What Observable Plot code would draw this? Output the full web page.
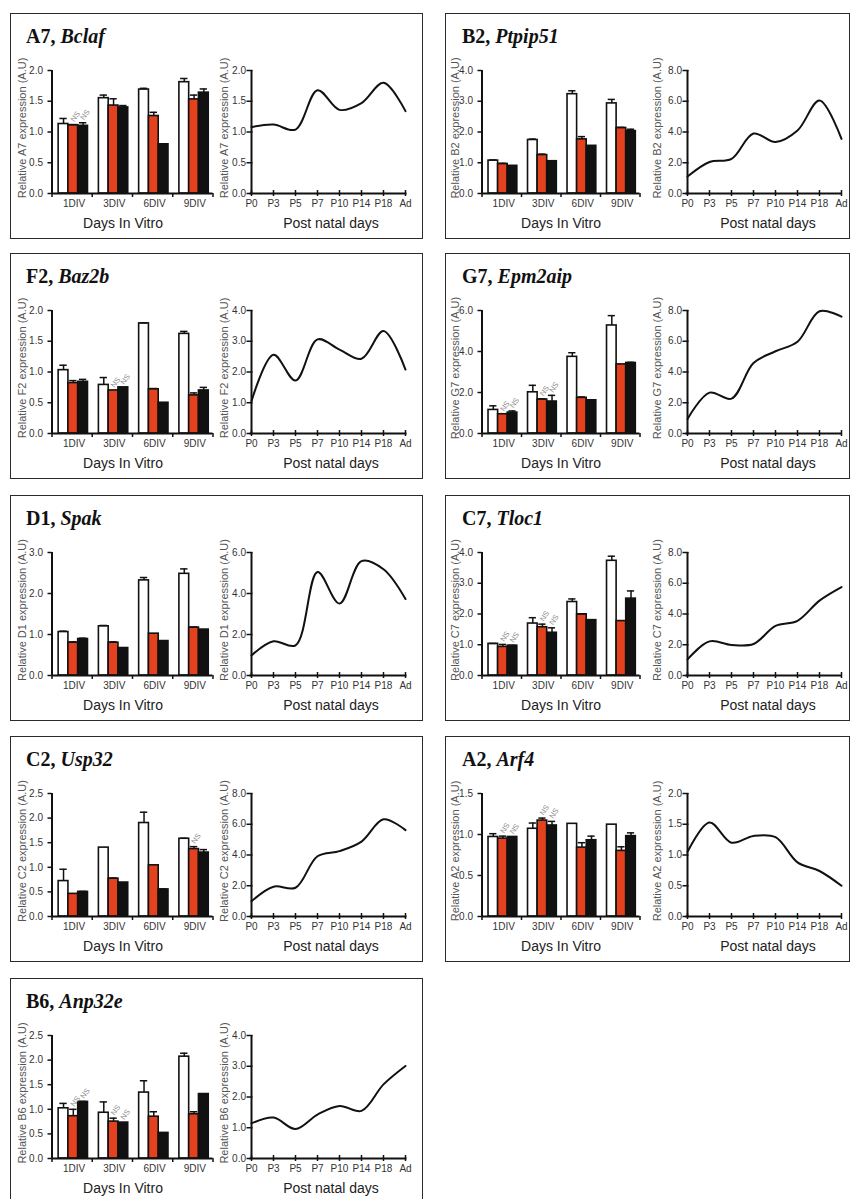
<!DOCTYPE html>
<html><head><meta charset="utf-8">
<script src="https://cdn.jsdelivr.net/npm/d3@7"></script>
<script src="https://cdn.jsdelivr.net/npm/@observablehq/plot@0.6"></script>
<style>
body{margin:0;background:#fff;}
#fig{position:relative;width:851px;height:1199px;overflow:hidden;font-family:"Liberation Sans",Arial,sans-serif;background:#fff;}
.box{position:absolute;border:1.5px solid #2a2a2a;box-sizing:border-box;}
.title{position:absolute;font-family:"Liberation Serif","DejaVu Serif","Times New Roman",serif;font-weight:bold;font-size:20px;color:#111;white-space:nowrap;line-height:20px;}
.ylab{position:absolute;font-size:11px;color:#555;white-space:nowrap;transform:translate(-50%,-50%) rotate(-90deg);}
.xlab{position:absolute;font-size:14px;color:#222;white-space:nowrap;transform:translate(-50%,-50%);}
.chart{position:absolute;}
</style></head>
<body>
<div id="fig"></div>
<script>
// ---- categories ----
const divLabels = ["1DIV", "3DIV", "6DIV", "9DIV"];
const pndLabels = ["P0", "P3", "P5", "P7", "P10", "P14", "P18", "Ad"];
const seriesKeys = ["s1", "s2", "s3"];

// ---- panels ----
const panelIds = ["A7", "B2", "F2", "G7", "D1", "C7", "C2", "A2", "B6"];
const geneNames = ["Bclaf", "Ptpip51", "Baz2b", "Epm2aip", "Spak", "Tloc1", "Usp32", "Arf4", "Anp32e"];
const barMax = [2, 4, 2, 6, 3, 4, 2.5, 1.5, 2.5];
const barStep = [0.5, 1, 0.5, 2, 1, 1, 0.5, 0.5, 0.5];
const lineMax = [2, 8, 4, 8, 6, 8, 8, 2, 4];
const lineStep = [0.5, 2, 1, 2, 2, 2, 2, 0.5, 1];

// ---- values: [s1, s2, s3] per DIV ----
const A7_mean = [[1.13,1.11,1.10],[1.55,1.43,1.40],[1.69,1.26,0.80],[1.81,1.53,1.64]];
const A7_err  = [[0.09,0.01,0.05],[0.05,0.11,0.03],[0.02,0.06,0],[0.06,0.07,0.06]];
const A7_ns   = [[0,1],[0,2]];
const A7_pnd  = [1.08,1.12,1.04,1.68,1.36,1.47,1.80,1.34];

const B2_mean = [[1.07,0.96,0.90],[1.74,1.25,1.05],[3.23,1.76,1.55],[2.93,2.13,2.03]];
const B2_err  = [[0.02,0.02,0],[0.03,0.03,0],[0.11,0.09,0],[0.13,0.02,0.06]];
const B2_ns   = [];
const B2_pnd  = [1.1,2.05,2.25,3.9,3.35,4.1,6.05,3.55];

const F2_mean = [[1.03,0.82,0.84],[0.79,0.70,0.75],[1.79,0.72,0.50],[1.62,0.62,0.70]];
const F2_err  = [[0.08,0.04,0.04],[0.12,0,0],[0.01,0.01,0],[0.04,0.04,0.05]];
const F2_ns   = [[1,1],[1,2]];
const F2_pnd  = [1.05,2.56,1.72,3.06,2.73,2.43,3.33,2.08];

const G7_mean = [[1.15,0.94,1.02],[2.01,1.66,1.56],[3.74,1.74,1.62],[5.27,3.37,3.44]];
const G7_err  = [[0.2,0,0.08],[0.34,0.03,0.3],[0.2,0.04,0],[0.48,0,0.03]];
const G7_ns   = [[0,1],[0,2],[1,1],[1,2]];
const G7_pnd  = [0.95,2.66,2.27,4.58,5.35,5.97,7.95,7.6];

const D1_mean = [[1.06,0.80,0.89],[1.20,0.80,0.67],[2.32,1.02,0.84],[2.48,1.17,1.12]];
const D1_err  = [[0.02,0.02,0.02],[0.02,0.02,0],[0.07,0,0],[0.12,0.01,0]];
const D1_ns   = [];
const D1_pnd  = [0.98,1.67,1.47,5.05,3.51,5.58,5.18,3.73];

const C7_mean = [[1.03,0.93,0.97],[1.69,1.57,1.39],[2.39,1.99,1.80],[3.73,1.77,2.50]];
const C7_err  = [[0.01,0.08,0.01],[0.19,0.1,0.16],[0.1,0.01,0],[0.15,0,0.25]];
const C7_ns   = [[0,1],[0,2],[1,1],[1,2]];
const C7_pnd  = [1.05,2.22,1.99,2.05,3.23,3.56,4.87,5.75];

const C2_mean = [[0.72,0.46,0.50],[1.40,0.77,0.69],[1.90,1.04,0.55],[1.58,1.37,1.30]];
const C2_err  = [[0.24,0,0.01],[0,0.01,0],[0.22,0,0.01],[0.01,0.05,0.06]];
const C2_ns   = [[3,1]];
const C2_pnd  = [0.99,1.94,1.87,3.92,4.25,4.87,6.32,5.62];

const A2_mean = [[0.97,0.95,0.97],[1.07,1.17,1.11],[1.13,0.84,0.93],[1.12,0.80,0.98]];
const A2_err  = [[0.04,0.03,0],[0.07,0.03,0.05],[0,0.06,0.05],[0,0.05,0.04]];
const A2_ns   = [[0,1],[0,2],[1,1],[1,2]];
const A2_pnd  = [1.05,1.53,1.2,1.31,1.29,0.88,0.74,0.50];

const B6_mean = [[1.02,0.86,1.15],[0.93,0.75,0.73],[1.34,0.85,0.52],[2.07,0.90,1.31]];
const B6_err  = [[0.1,0.14,0.01],[0.22,0.07,0],[0.24,0.1,0],[0.07,0.05,0]];
const B6_ns   = [[0,1],[0,2],[1,1],[1,2]];
const B6_pnd  = [1.14,1.33,0.96,1.43,1.71,1.55,2.41,3.01];

const means = [A7_mean, B2_mean, F2_mean, G7_mean, D1_mean, C7_mean, C2_mean, A2_mean, B6_mean];
const errs  = [A7_err, B2_err, F2_err, G7_err, D1_err, C7_err, C2_err, A2_err, B6_err];
const nss   = [A7_ns, B2_ns, F2_ns, G7_ns, D1_ns, C7_ns, C2_ns, A2_ns, B6_ns];
const pnds  = [A7_pnd, B2_pnd, F2_pnd, G7_pnd, D1_pnd, C7_pnd, C2_pnd, A2_pnd, B6_pnd];

// ---- layout ----
const cols = [
  {x: 10, w: 413, barLeft: 40.5, barW: 161, lineLeft: 238.5, lineW: 157, ylabBar: 11, ylabLine: 213, xlabBar: 112, xlabLine: 320, titleX: 15},
  {x: 445, w: 405, barLeft: 35.5, barW: 158, lineLeft: 239.5, lineW: 156, ylabBar: 9, ylabLine: 211, xlabBar: 115, xlabLine: 322, titleX: 16}
];
const rowTops = [13, 253, 495, 736, 978];
const BOX_H = 226, CH_TOP = 38.5, CH_H = 160, M_TOP = 17, M_BOT = 20;

const fmt = d3.format(".1f");
const INK = "#111";

function barChart(i, c) {
  const rows = [];
  means[i].forEach((grp, g) => grp.forEach((v, k) => {
    const x1 = g + 0.165 + 0.243 * k;
    rows.push({g, k, v, e: errs[i][g][k], x1, x2: x1 + 0.243, s: seriesKeys[k]});
  }));
  const withErr = rows.filter(d => d.e > 0);
  const nsRows = nss[i].map(([g, k]) => rows.find(d => d.g === g && d.k === k));
  const ticks = d3.range(0, barMax[i] + 1e-9, barStep[i]);
  return Plot.plot({
    width: c.barLeft + c.barW + 10, height: CH_H,
    marginLeft: c.barLeft, marginRight: 10, marginTop: M_TOP, marginBottom: M_BOT,
    style: {background: "transparent", fontFamily: "'Liberation Sans', Arial, sans-serif", fontSize: "10px", color: "#333", overflow: "visible"},
    x: {domain: [0, 4]},
    y: {domain: [0, barMax[i]]},
    color: {domain: seriesKeys, range: ["#ffffff", "#e4411f", "#111111"]},
    marks: [
      Plot.rect(rows, {x1: "x1", x2: "x2", y1: 0, y2: "v", fill: "s", stroke: INK, strokeWidth: 1.6}),
      Plot.ruleX(withErr, {x: d => (d.x1 + d.x2) / 2, y1: "v", y2: d => d.v + d.e, stroke: INK, strokeWidth: 1.5}),
      Plot.ruleY(withErr, {y: d => d.v + d.e, x1: d => d.x1 + 0.03, x2: d => d.x2 - 0.03, stroke: INK, strokeWidth: 1.5}),
      Plot.text(nsRows, {x: d => (d.x1 + d.x2) / 2, y: d => d.v + d.e, text: () => "NS", rotate: -55, dy: -8, dx: 2, fontSize: 7.5, fill: "#888"}),
      Plot.ruleY([0], {stroke: INK, strokeWidth: 2}),
      Plot.ruleX([0], {stroke: INK, strokeWidth: 2}),
      Plot.axisY({ticks, tickSize: 4, tickPadding: 5, tickFormat: fmt, stroke: INK, strokeWidth: 1.5, label: null}),
      Plot.axisX({ticks: [0, 1, 2, 3, 4], tickSize: 4, tickFormat: () => "", stroke: INK, strokeWidth: 1.5, label: null}),
      Plot.axisX({ticks: [0.55, 1.55, 2.55, 3.55], tickSize: 0, tickPadding: 6, tickFormat: d => divLabels[Math.floor(d)], label: null})
    ]
  });
}

function lineChart(i, c) {
  const pts = pndLabels.map((p, j) => ({p, v: pnds[i][j]}));
  const ticks = d3.range(0, lineMax[i] + 1e-9, lineStep[i]);
  const ml = c.lineLeft - 190;
  return Plot.plot({
    width: ml + c.lineW + 8, height: CH_H,
    marginLeft: ml, marginRight: 8, marginTop: M_TOP, marginBottom: M_BOT,
    style: {background: "transparent", fontFamily: "'Liberation Sans', Arial, sans-serif", fontSize: "10px", color: "#333", overflow: "visible"},
    x: {type: "point", domain: pndLabels, padding: 0},
    y: {domain: [0, lineMax[i]]},
    marks: [
      Plot.ruleY([0], {stroke: INK, strokeWidth: 2}),
      Plot.ruleX([pndLabels[0]], {stroke: INK, strokeWidth: 2}),
      Plot.line(pts, {x: "p", y: "v", curve: "catmull-rom", stroke: INK, strokeWidth: 2}),
      Plot.axisY({ticks, tickSize: 6, dx: 3, tickFormat: () => "", stroke: INK, strokeWidth: 1.5, label: null}),
      Plot.axisY({ticks, tickSize: 0, tickPadding: 4, tickFormat: fmt, label: null}),
      Plot.axisX({tickSize: 6, dy: -3, tickFormat: () => "", stroke: INK, strokeWidth: 1.5, label: null}),
      Plot.axisX({tickSize: 0, tickPadding: 6, label: null})
    ]
  });
}

const fig = document.getElementById("fig");
panelIds.forEach((id, i) => {
  const c = cols[i % 2];
  const top = rowTops[Math.floor(i / 2)];
  const box = document.createElement("div");
  box.className = "box";
  Object.assign(box.style, {left: c.x + "px", top: top + "px", width: c.w + "px", height: BOX_H + "px"});
  fig.appendChild(box);

  const t = document.createElement("div");
  t.className = "title";
  t.style.left = c.titleX + "px"; t.style.top = "11.5px";
  t.innerHTML = id + ", <i>" + geneNames[i] + "</i>";
  box.appendChild(t);

  const b = barChart(i, c);
  b.classList.add("chart");
  Object.assign(b.style, {left: "0px", top: CH_TOP + "px"});
  box.appendChild(b);

  const l = lineChart(i, c);
  l.classList.add("chart");
  Object.assign(l.style, {left: "190px", top: CH_TOP + "px"});
  box.appendChild(l);

  const yl1 = document.createElement("div");
  yl1.className = "ylab";
  yl1.textContent = "Relative " + id + " expression (A.U)";
  Object.assign(yl1.style, {left: c.ylabBar + "px", top: "114px"});
  box.appendChild(yl1);

  const yl2 = document.createElement("div");
  yl2.className = "ylab";
  yl2.textContent = "Relative " + id + " expression (A.U)";
  Object.assign(yl2.style, {left: c.ylabLine + "px", top: "114px"});
  box.appendChild(yl2);

  const xl1 = document.createElement("div");
  xl1.className = "xlab";
  xl1.textContent = "Days In Vitro";
  Object.assign(xl1.style, {left: c.xlabBar + "px", top: "208.5px"});
  box.appendChild(xl1);

  const xl2 = document.createElement("div");
  xl2.className = "xlab";
  xl2.textContent = "Post natal days";
  Object.assign(xl2.style, {left: c.xlabLine + "px", top: "208.5px"});
  box.appendChild(xl2);
});
</script>
</body></html>
